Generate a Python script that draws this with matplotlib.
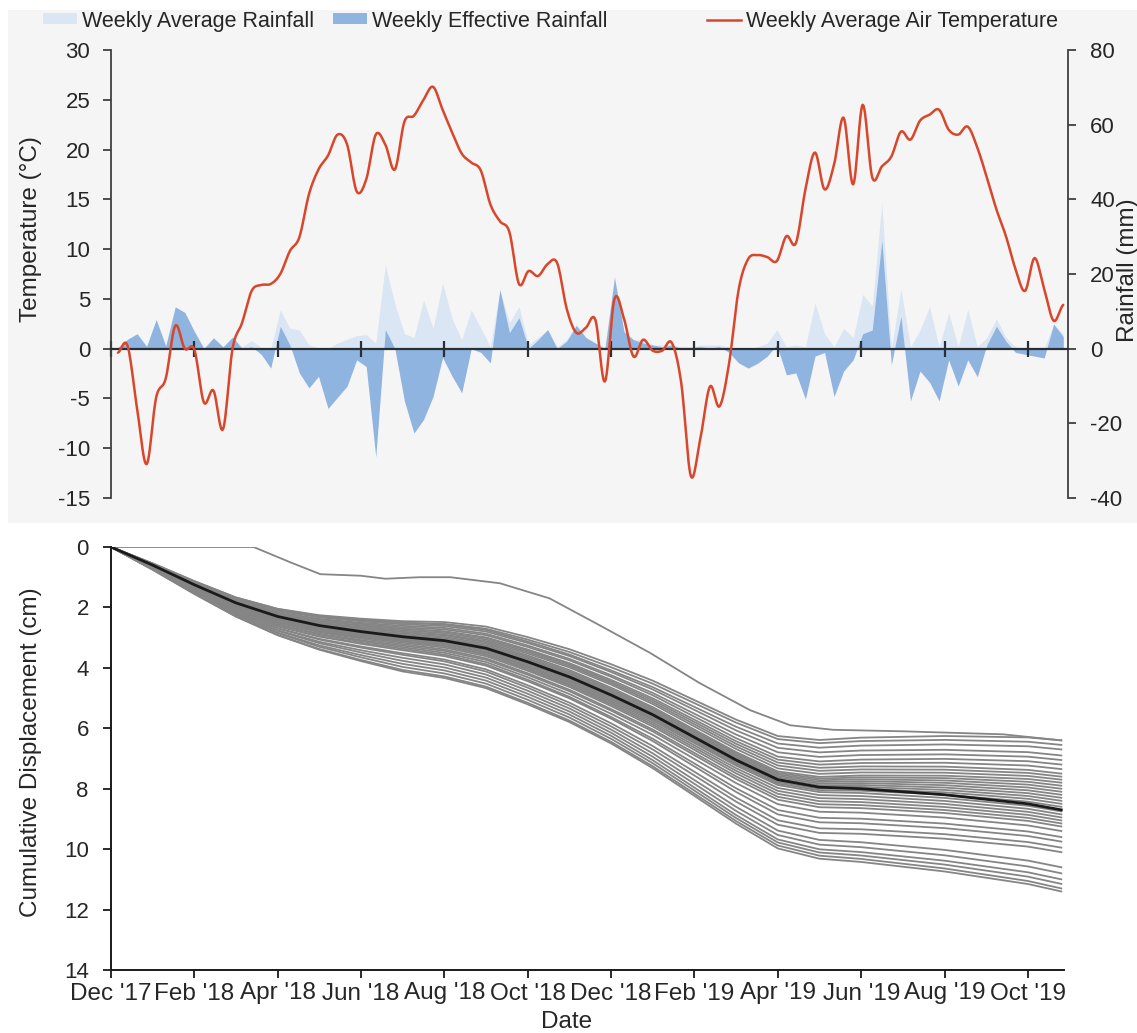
import numpy as np
import matplotlib
matplotlib.use("Agg")
import matplotlib.pyplot as plt
from matplotlib.patches import Rectangle, Patch
from matplotlib.lines import Line2D

plt.rcParams['font.family'] = ['Liberation Sans', 'DejaVu Sans']
plt.rcParams['axes.unicode_minus'] = False

# ------------------------------------------------------------------ data
tick_labels = ["Dec '17", "Feb '18", "Apr '18", "Jun '18", "Aug '18", "Oct '18",
               "Dec '18", "Feb '19", "Apr '19", "Jun '19", "Aug '19", "Oct '19"]

# weekly average air temperature (deg C), one value per week from early Dec 2017
temperature = [-0.4, 0.3, -6.0, -11.6, -4.9, -3.0, 2.3, 0.0, -0.1, -5.4,
               -4.2, -8.1, 0.0, 2.6, 5.8, 6.4, 6.5, 7.5, 9.8, 11.2,
               15.5, 18.0, 19.4, 21.5, 20.5, 15.8, 17.0, 21.5, 20.5, 18.0,
               22.8, 23.4, 25.0, 26.3, 24.0, 21.7, 19.6, 18.7, 17.9, 14.5,
               12.8, 11.7, 6.5, 7.8, 7.3, 8.5, 8.6, 4.0, 1.6, 2.1,
               2.9, -3.3, 5.0, 3.0, -0.8, 0.9, -0.2, -0.2, 0.6, -3.5,
               -12.8, -9.0, -3.8, -5.8, -1.5, 5.9, 9.0, 9.4, 9.2, 8.8,
               11.3, 10.6, 16.0, 19.7, 16.0, 18.5, 23.2, 16.5, 24.5, 17.2,
               18.3, 19.3, 21.8, 21.0, 22.9, 23.5, 24.0, 22.0, 21.5, 22.3,
               20.2, 17.2, 14.0, 11.3, 8.0, 5.8, 9.1, 6.0, 2.8, 4.4]

# weekly average rainfall (mm)
avg_rain = [0.5, 2.5, 4.0, 0.6, 7.8, 0.7, 11.2, 9.7, 4.6, 0.3,
            2.9, 0.5, 3.1, 0.5, 2.2, 0.3, 0.0, 10.4, 5.5, 5.0,
            1.0, 0.3, 0.0, 1.5, 2.5, 3.5, 3.8, 1.5, 22.5, 12.0,
            4.0, 3.0, 13.0, 5.5, 17.6, 8.0, 2.4, 10.4, 5.5, 0.5,
            15.8, 7.0, 11.3, 1.0, 3.0, 5.1, 0.5, 2.5, 6.5, 3.0,
            1.5, 0.5, 19.6, 4.5, 2.4, 2.5, 1.0, 1.0, 1.0, 0.5,
            0.5, 1.0, 1.0, 1.0, 0.5, 0.0, 0.0, 0.5, 1.5, 5.1,
            0.5, 1.0, 0.5, 12.3, 4.0, 0.5, 5.4, 3.0, 14.5, 11.5,
            39.0, 0.0, 16.0, 0.5, 5.0, 11.3, 0.5, 9.6, 0.5, 10.5,
            0.5, 3.0, 8.0, 3.0, 0.5, 0.0, 0.0, 0.0, 6.6, 4.0]

# weekly effective rainfall (mm)
eff_rain = [0.3, 2.5, 4.0, 0.6, 7.8, 0.7, 11.2, 9.7, 4.6, 0.0,
            2.9, 0.5, 3.1, 0.0, 0.5, -1.5, -5.2, 6.0, 1.0, -6.5,
            -10.5, -7.4, -16.0, -13.0, -10.0, -3.0, -4.8, -29.0, 5.1, 0.0,
            -14.0, -22.6, -19.0, -12.8, -2.4, -7.4, -11.8, 0.0, -1.0, -3.8,
            15.8, 4.3, 8.3, 0.0, 2.4, 5.1, 0.0, 2.0, 6.2, 3.0,
            1.5, 0.0, 19.0, 4.5, 2.4, 1.5, 1.0, 0.5, 1.0, 0.0,
            0.3, 0.5, 0.2, 0.5, -1.0, -3.8, -5.2, -3.9, -2.0, 1.0,
            -7.0, -6.5, -13.5, -2.0, -1.0, -12.8, -6.0, -3.0, 4.0, 5.0,
            29.0, -4.3, 8.6, -14.0, -6.0, -9.0, -14.0, -3.0, -10.0, -3.0,
            -7.5, 1.0, 6.0, 2.0, -1.0, -1.5, -2.0, -2.5, 6.6, 3.2]

# cumulative displacement: mean curve (cm) at given week positions
mean_weeks = [-0.73, 3.63, 8.0, 12.36, 16.73, 21.09, 25.46, 29.82, 34.19, 38.55,
              42.92, 47.28, 51.65, 56.01, 60.38, 64.74, 69.11, 73.47, 77.84, 82.2,
              86.57, 90.93, 95.3, 98.8]
mean_disp = [0.0, 0.6, 1.25, 1.85, 2.3, 2.6, 2.8, 2.97, 3.1, 3.35,
             3.8, 4.3, 4.9, 5.55, 6.3, 7.05, 7.7, 7.95, 8.0, 8.1,
             8.2, 8.35, 8.5, 8.7]

# individual points: displacement (cm) at key dates (start, Mar18, Jul18, Nov18, Apr19, end)
key_weeks = [-0.73, 13.8, 29.5, 50.5, 70.4, 98.8]
point_disp = [
    [0, 1.80, 2.45, 3.75, 6.30, 6.40], [0, 1.80, 2.50, 3.85, 6.40, 6.55],
    [0, 1.85, 2.50, 3.95, 6.55, 6.70], [0, 1.85, 2.55, 4.00, 6.70, 6.90],
    [0, 1.90, 2.60, 4.10, 6.85, 7.05], [0, 1.90, 2.65, 4.15, 7.00, 7.20],
    [0, 1.95, 2.70, 4.25, 7.10, 7.35], [0, 1.95, 2.70, 4.30, 7.20, 7.50],
    [0, 2.00, 2.75, 4.35, 7.30, 7.60], [0, 2.00, 2.80, 4.40, 7.40, 7.70],
    [0, 2.00, 2.80, 4.50, 7.50, 7.80], [0, 2.05, 2.85, 4.55, 7.55, 7.90],
    [0, 2.05, 2.90, 4.60, 7.60, 8.00], [0, 2.05, 2.90, 4.65, 7.65, 8.10],
    [0, 2.10, 2.95, 4.70, 7.70, 8.20], [0, 2.10, 2.95, 4.75, 7.75, 8.30],
    [0, 2.10, 3.00, 4.80, 7.80, 8.40], [0, 2.10, 3.00, 4.85, 7.85, 8.50],
    [0, 2.15, 3.05, 4.90, 7.90, 8.60], [0, 2.15, 3.05, 4.95, 7.95, 8.75],
    [0, 2.15, 3.10, 5.00, 8.05, 8.85], [0, 2.20, 3.10, 5.05, 8.15, 8.95],
    [0, 2.20, 3.15, 5.10, 8.25, 9.05], [0, 2.20, 3.20, 5.20, 8.35, 9.15],
    [0, 2.25, 3.25, 5.25, 8.45, 9.25], [0, 2.25, 3.30, 5.35, 8.60, 9.40],
    [0, 2.30, 3.35, 5.45, 8.80, 9.60], [0, 2.30, 3.40, 5.50, 8.95, 9.75],
    [0, 2.35, 3.50, 5.65, 9.15, 9.95], [0, 2.35, 3.55, 5.75, 9.30, 10.10],
    [0, 2.40, 3.65, 5.85, 9.50, 10.60], [0, 2.40, 3.75, 5.95, 9.65, 10.80],
    [0, 2.45, 3.85, 6.05, 9.80, 11.00], [0, 2.45, 3.95, 6.15, 9.90, 11.15],
    [0, 2.50, 4.05, 6.25, 10.00, 11.30], [0, 2.50, 4.10, 6.30, 10.10, 11.40],
]

# slowest point, traced separately
outlier_weeks = [-0.73, 14.2, 18.0, 21.2, 25.4, 28.0, 31.6, 34.8, 40.0, 45.2,
                 50.5, 55.7, 60.9, 66.2, 70.4, 74.9, 82.2, 92.7, 98.8]
outlier_disp = [0.0, 0.0, 0.5, 0.9, 0.95, 1.05, 1.0, 1.0, 1.2, 1.7,
                2.6, 3.5, 4.5, 5.4, 5.9, 6.05, 6.1, 6.2, 6.4]


# ------------------------------------------------------------------ helpers
def smooth(x, y, n=12):
    """Catmull-Rom curve through the points (like a smoothed spreadsheet line)."""
    x = np.asarray(x, float)
    y = np.asarray(y, float)
    P = np.concatenate([[y[0]], y, [y[-1]]])
    xs, ys = [], []
    t = np.linspace(0, 1, n, endpoint=False)
    for i in range(1, len(x)):
        p0, p1, p2, p3 = P[i - 1], P[i], P[i + 1], P[i + 2]
        ys.append(0.5 * (2 * p1 + (-p0 + p2) * t + (2 * p0 - 5 * p1 + 4 * p2 - p3) * t ** 2
                         + (-p0 + 3 * p1 - 3 * p2 + p3) * t ** 3))
        xs.append(x[i - 1] + (x[i] - x[i - 1]) * t)
    xs.append([x[-1]])
    ys.append([y[-1]])
    return np.concatenate(xs), np.concatenate(ys)


# ------------------------------------------------------------------ figure
W, H = 1137, 1033
fig = plt.figure(figsize=(W / 100, H / 100), dpi=100)

fig.patches.append(Rectangle((8 / W, 1 - 523 / H), (W - 8) / W, 513 / H,
                             transform=fig.transFigure, facecolor='#f5f5f5',
                             edgecolor='none', zorder=-10))

weeks = np.arange(len(temperature))
x_left, x_right = -0.73, 99.5
tick_pos = x_left + 8.73 * np.arange(len(tick_labels))
txt = '#262626'
axc = '#404040'

# ---------------- top panel
ax = fig.add_axes([111 / W, 1 - 498 / H, 957 / W, 448 / H])
ax2 = ax.twinx()
ax.set_zorder(3)
ax2.set_zorder(2)
ax.patch.set_visible(False)
ax2.patch.set_visible(False)

ax2.fill_between(weeks, 0, avg_rain, color='#dbe6f4', lw=0)
ax2.fill_between(weeks, 0, eff_rain, color='#8fb4df', lw=0)
sx, sy = smooth(weeks, temperature)
ax.plot(sx, sy, color='#d8462b', lw=1.8, solid_capstyle='round', zorder=5)

ax.set_xlim(x_left, x_right)
ax.set_ylim(-15, 30)
ax2.set_ylim(-40, 80)
ax.set_yticks(np.arange(-15, 31, 5))
ax2.set_yticks(np.arange(-40, 81, 20))
ax.set_xticks(tick_pos)
ax.set_xticklabels([])

for s in ['top', 'right']:
    ax.spines[s].set_visible(False)
ax.spines['bottom'].set_position(('data', 0))
ax.spines['bottom'].set_color('#2a2f36')
ax.spines['bottom'].set_linewidth(1.6)
ax.spines['left'].set_color(axc)
ax.spines['left'].set_linewidth(1.3)
for s in ['top', 'left', 'bottom']:
    ax2.spines[s].set_visible(False)
ax2.spines['right'].set_color(axc)
ax2.spines['right'].set_linewidth(1.3)

ax.tick_params(axis='x', direction='inout', length=11, width=1.6, color='#2a2f36',
               labelbottom=False)
ax.tick_params(axis='y', direction='out', length=6, width=1.3, color=axc,
               labelsize=16, labelcolor=txt, pad=9)
ax2.tick_params(axis='y', direction='out', length=6, width=1.3, color=axc,
                labelsize=16, labelcolor=txt, pad=10)

ax.set_ylabel('Temperature (°C)', fontsize=17.5, color=txt)
ax.yaxis.set_label_coords(-0.072, 0.60)
ax2.set_ylabel('Rainfall (mm)', fontsize=17.5, color=txt)
ax2.yaxis.set_label_coords(1.051, 0.509)

# legend (three entries laid out across the top)
leg_items = [
    (Patch(facecolor='#dbe6f4', edgecolor='none'), 'Weekly Average Rainfall', 43),
    (Patch(facecolor='#8fb4df', edgecolor='none'), 'Weekly Effective Rainfall', 333),
    (Line2D([], [], color='#d8462b', lw=1.8), 'Weekly Average Air Temperature', 707),
]
for h, lab, xp in leg_items:
    fig.legend([h], [lab], loc='center left', bbox_to_anchor=(xp / W, 1 - 21 / H),
               frameon=False, fontsize=15.5, handlelength=1.6, handleheight=0.42,
               handletextpad=0.2, borderpad=0, borderaxespad=0, labelcolor=txt)

# ---------------- bottom panel
axb = fig.add_axes([111 / W, 1 - 970 / H, 953 / W, 423 / H])
xb_right = x_left + 953 / (957 / (x_right - x_left))
axb.set_xlim(x_left, xb_right)
axb.set_ylim(14, 0)

mw = np.asarray(mean_weeks)
md = np.asarray(mean_disp)
for row in point_disp:
    dev = np.asarray(row) - np.interp(key_weeks, mw, md)
    axb.plot(mw, md + np.interp(mw, key_weeks, dev), color='#858585', lw=1.3, zorder=2)
axb.plot(outlier_weeks, outlier_disp, color='#858585', lw=1.3, zorder=2)
axb.plot(mw, md, color='#1a1a1a', lw=2.0, zorder=3)

axb.set_yticks(np.arange(0, 15, 2))
axb.set_xticks(tick_pos)
axb.set_xticklabels(tick_labels)
for s in ['top', 'right']:
    axb.spines[s].set_visible(False)
for s in ['left', 'bottom']:
    axb.spines[s].set_color('#1a1a1a')
    axb.spines[s].set_linewidth(1.4)
axb.tick_params(axis='both', direction='out', length=6, width=1.3, color='#1a1a1a',
                labelcolor=txt)
axb.tick_params(axis='y', pad=10, labelsize=16)
axb.tick_params(axis='x', pad=3, labelsize=17.5)
axb.set_xlabel('Date', fontsize=17.5, color=txt)
axb.xaxis.set_label_coords(0.478, -0.097)
axb.set_ylabel('Cumulative Displacement (cm)', fontsize=17.5, color=txt)
axb.yaxis.set_label_coords(-0.072, 0.515)

fig.savefig('out.png', dpi=100)
